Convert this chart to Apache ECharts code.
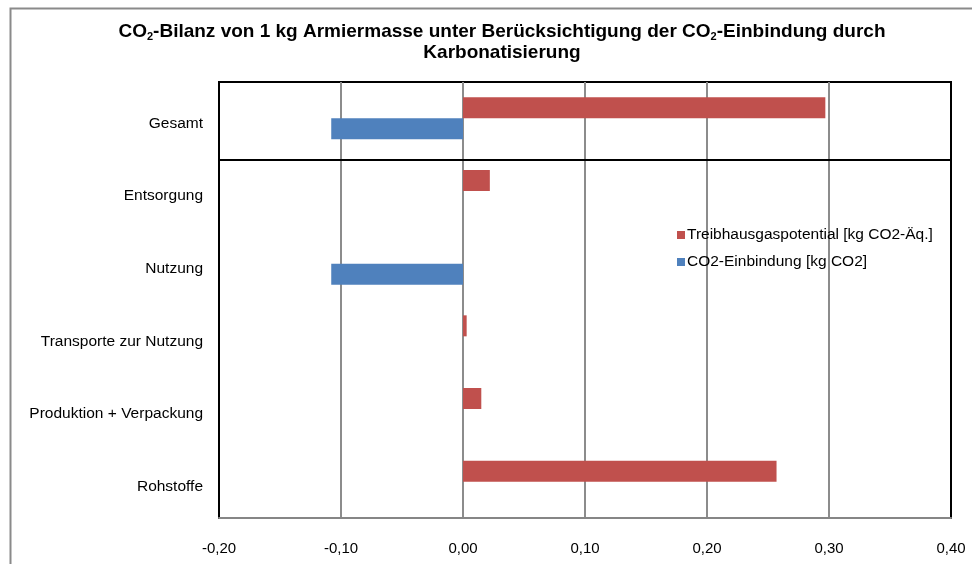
<!DOCTYPE html>
<html>
<head>
<meta charset="utf-8">
<script src="https://cdn.jsdelivr.net/npm/echarts@6/dist/echarts.min.js"></script>
<style>html,body{margin:0;padding:0;background:#fff}#c{width:972px;height:564px}</style>
</head>
<body>
<div id="c"></div>
<script>
const categories = ['Rohstoffe', 'Produktion + Verpackung', 'Transporte zur Nutzung', 'Nutzung', 'Entsorgung', 'Gesamt'];
const treibhausgas = [0.257, 0.015, 0.003, null, 0.022, 0.297];
const einbindung = [null, null, null, -0.108, null, -0.108];
const xTicks = { min: -0.2, max: 0.4, interval: 0.1 };
const seriesNames = ['Treibhausgaspotential [kg CO2-Äq.]', 'CO2-Einbindung [kg CO2]'];

const FONT = 'Liberation Sans, Arial, sans-serif';
const chart = echarts.init(document.getElementById('c'));
chart.setOption({
  animation: false,
  textStyle: { fontFamily: FONT },
  graphic: [{
    type: 'rect', left: 8, top: 6, shape: { width: 1000, height: 600 },
    style: { fill: 'none', stroke: '#8a8a8a', lineWidth: 2 }, silent: true, z: -10
  }],
  title: {
    text: 'CO{s|2}-Bilanz von 1 kg Armiermasse unter Berücksichtigung der CO{s|2}-Einbindung durch\nKarbonatisierung',
    left: 497, top: 16, textAlign: 'center',
    textStyle: {
      fontFamily: FONT, fontSize: 19, fontWeight: 'bold', color: '#000', lineHeight: 21,
      rich: { s: { fontFamily: FONT, fontSize: 11, fontWeight: 'bold', color: '#000', verticalAlign: 'bottom', padding: [7, 0, 0, 0] } }
    }
  },
  legend: {
    orient: 'vertical', left: 672, top: 222, itemWidth: 8, itemHeight: 8, itemGap: 11,
    icon: 'rect', data: seriesNames,
    textStyle: { fontFamily: FONT, fontSize: 15.5, color: '#000', padding: [0, 0, 0, -3] }
  },
  grid: { left: 219, right: 21, top: 82, bottom: 46, show: true, borderColor: '#000', borderWidth: 2 },
  xAxis: {
    type: 'value', min: xTicks.min, max: xTicks.max, interval: xTicks.interval,
    axisLine: { show: true, lineStyle: { color: '#868686', width: 2 } },
    axisTick: { show: false },
    axisLabel: { color: '#000', fontSize: 15, fontFamily: FONT, margin: 23,
      formatter: v => v.toFixed(2).replace('.', ',') },
    splitLine: { show: true, lineStyle: { color: ['#000', '#8c8c8c', '#8c8c8c', '#8c8c8c', '#8c8c8c', '#8c8c8c', '#000'], width: 2 } }
  },
  yAxis: [{
    type: 'category', data: categories,
    axisLine: { show: true, onZero: false, lineStyle: { color: '#000', width: 2 } },
    axisTick: { show: false },
    axisLabel: { color: '#000', fontSize: 15.5, fontFamily: FONT, margin: 16, verticalAlign: 'top', lineHeight: 10 },
    splitLine: { show: false }
  }, {
    type: 'value', min: 0, max: 6, show: false
  }],
  series: [{
    name: seriesNames[0], type: 'bar', data: treibhausgas,
    barWidth: 21, barGap: '0%', itemStyle: { color: '#C0504D' }
  }, {
    name: seriesNames[1], type: 'bar', data: einbindung,
    barWidth: 21, barGap: '0%', itemStyle: { color: '#4F81BD' }
  }, {
    type: 'line', yAxisIndex: 1, data: [], silent: true,
    markLine: {
      symbol: 'none', silent: true, label: { show: false },
      lineStyle: { color: '#000', width: 2, type: 'solid' },
      data: [{ yAxis: 4.93 }]
    }
  }]
});
</script>
</body>
</html>
